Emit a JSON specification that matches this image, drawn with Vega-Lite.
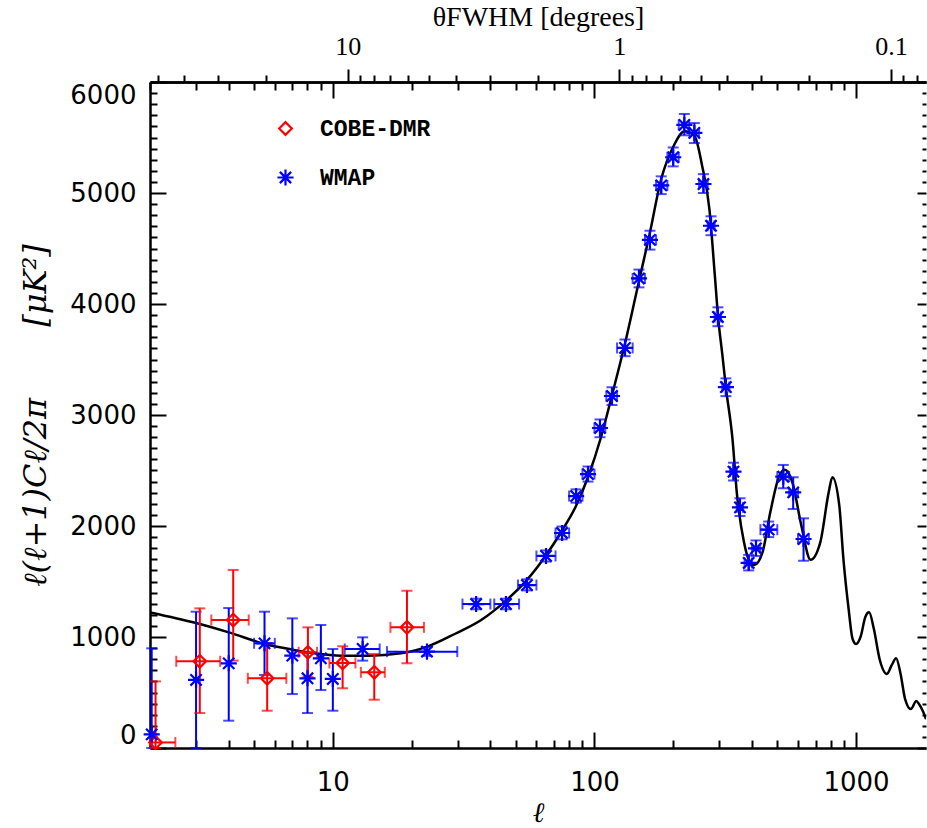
{
  "$schema": "https://vega.github.io/schema/vega-lite/v6.json",
  "padding": {"left": 19, "top": 3, "right": 0, "bottom": 0},
  "autosize": {"type": "pad"},
  "width": 776,
  "height": 666,
  "background": "white",
  "config": {
    "view": {"stroke": null},
    "axis": {
      "grid": false,
      "domainColor": "black",
      "domainWidth": 2.5,
      "tickColor": "black",
      "tickWidth": 2,
      "labelColor": "black",
      "titleColor": "black",
      "labelFont": "DejaVu Sans",
      "labelFontSize": 26,
      "labelOverlap": false
    }
  },
  "datasets": {
    "theory": [
      {"l": 2, "v": 1222}, {"l": 3, "v": 1126}, {"l": 4, "v": 1042}, {"l": 5.5, "v": 937},
      {"l": 7, "v": 886}, {"l": 8.5, "v": 853}, {"l": 10.75, "v": 832}, {"l": 13.6, "v": 832},
      {"l": 18.2, "v": 853}, {"l": 23.1, "v": 916}, {"l": 29.2, "v": 1027}, {"l": 36.9, "v": 1153},
      {"l": 46, "v": 1330}, {"l": 55, "v": 1510}, {"l": 65, "v": 1730}, {"l": 75, "v": 1955},
      {"l": 85, "v": 2180}, {"l": 94.5, "v": 2441}, {"l": 106, "v": 2802}, {"l": 117, "v": 3189},
      {"l": 131, "v": 3649}, {"l": 148.6, "v": 4225}, {"l": 162, "v": 4615}, {"l": 180, "v": 5126},
      {"l": 201, "v": 5426}, {"l": 221, "v": 5556}, {"l": 241, "v": 5516}, {"l": 258, "v": 5246},
      {"l": 275, "v": 4856}, {"l": 288.6, "v": 4255}, {"l": 297, "v": 3880}, {"l": 308, "v": 3550},
      {"l": 318, "v": 3250}, {"l": 337, "v": 2784}, {"l": 350, "v": 2303}, {"l": 373, "v": 1853},
      {"l": 390, "v": 1690}, {"l": 408, "v": 1649}, {"l": 439, "v": 1763}, {"l": 470, "v": 2123},
      {"l": 509, "v": 2453}, {"l": 534, "v": 2507}, {"l": 571, "v": 2394}, {"l": 618, "v": 2003},
      {"l": 670, "v": 1696}, {"l": 730, "v": 1853}, {"l": 786, "v": 2303}, {"l": 812, "v": 2439},
      {"l": 863, "v": 2183}, {"l": 895, "v": 1700}, {"l": 937, "v": 1250}, {"l": 970, "v": 982},
      {"l": 1000, "v": 937}, {"l": 1043, "v": 1009}, {"l": 1085, "v": 1180}, {"l": 1122, "v": 1222},
      {"l": 1170, "v": 1072}, {"l": 1230, "v": 802}, {"l": 1312, "v": 667}, {"l": 1370, "v": 748},
      {"l": 1423, "v": 808}, {"l": 1480, "v": 667}, {"l": 1540, "v": 441}, {"l": 1620, "v": 351},
      {"l": 1700, "v": 423}, {"l": 1740, "v": 396}, {"l": 1800, "v": 333}, {"l": 1851, "v": 260}
    ],
    "obs": [
      {"exp": "COBE-DMR", "l": 2.1, "v": 50, "lo": 0, "hi": 600, "llo": 2.0, "lhi": 2.5},
      {"exp": "COBE-DMR", "l": 3.1, "v": 781, "lo": 315, "hi": 1258, "llo": 2.52, "lhi": 3.71},
      {"exp": "COBE-DMR", "l": 4.16, "v": 1153, "lo": 787, "hi": 1604, "llo": 3.43, "lhi": 4.77},
      {"exp": "COBE-DMR", "l": 5.61, "v": 628, "lo": 336, "hi": 940, "llo": 4.73, "lhi": 6.64},
      {"exp": "COBE-DMR", "l": 8.03, "v": 862, "lo": 640, "hi": 1087, "llo": 7.4, "lhi": 8.7},
      {"exp": "COBE-DMR", "l": 10.9, "v": 766, "lo": 538, "hi": 916, "llo": 9.7, "lhi": 12.2},
      {"exp": "COBE-DMR", "l": 14.4, "v": 682, "lo": 435, "hi": 847, "llo": 12.8, "lhi": 15.8},
      {"exp": "COBE-DMR", "l": 19.2, "v": 1087, "lo": 763, "hi": 1417, "llo": 16.6, "lhi": 22.3},
      {"exp": "WMAP", "l": 2.03, "v": 123, "lo": 0, "hi": 898, "llo": null, "lhi": null},
      {"exp": "WMAP", "l": 3, "v": 613, "lo": 0, "hi": 1228, "llo": null, "lhi": null},
      {"exp": "WMAP", "l": 4, "v": 763, "lo": 246, "hi": 1261, "llo": null, "lhi": null},
      {"exp": "WMAP", "l": 5.48, "v": 943, "lo": 658, "hi": 1228, "llo": 5.0, "lhi": 6.0},
      {"exp": "WMAP", "l": 7, "v": 832, "lo": 486, "hi": 1168, "llo": null, "lhi": null},
      {"exp": "WMAP", "l": 8, "v": 628, "lo": 315, "hi": 856, "llo": null, "lhi": null},
      {"exp": "WMAP", "l": 9, "v": 808, "lo": 522, "hi": 1108, "llo": null, "lhi": null},
      {"exp": "WMAP", "l": 10, "v": 622, "lo": 336, "hi": 892, "llo": null, "lhi": null},
      {"exp": "WMAP", "l": 13, "v": 892, "lo": 787, "hi": 997, "llo": 11.1, "lhi": 15.1},
      {"exp": "WMAP", "l": 22.9, "v": 868, "lo": 830, "hi": 907, "llo": 16.1, "lhi": 29.9},
      {"exp": "WMAP", "l": 35.3, "v": 1297, "lo": 1250, "hi": 1345, "llo": 31.3, "lhi": 40},
      {"exp": "WMAP", "l": 45.9, "v": 1297, "lo": 1250, "hi": 1345, "llo": 41.4, "lhi": 51.5},
      {"exp": "WMAP", "l": 55.2, "v": 1468, "lo": 1420, "hi": 1520, "llo": 51, "lhi": 60},
      {"exp": "WMAP", "l": 65.3, "v": 1730, "lo": 1680, "hi": 1780, "llo": 60, "lhi": 71},
      {"exp": "WMAP", "l": 75.2, "v": 1937, "lo": 1880, "hi": 1995, "llo": 71, "lhi": 80},
      {"exp": "WMAP", "l": 85.1, "v": 2270, "lo": 2210, "hi": 2330, "llo": 80, "lhi": 90},
      {"exp": "WMAP", "l": 94.5, "v": 2468, "lo": 2400, "hi": 2536, "llo": 90, "lhi": 100},
      {"exp": "WMAP", "l": 105, "v": 2883, "lo": 2800, "hi": 2960, "llo": 100, "lhi": 110},
      {"exp": "WMAP", "l": 116.7, "v": 3171, "lo": 3090, "hi": 3250, "llo": 111, "lhi": 122},
      {"exp": "WMAP", "l": 130.9, "v": 3604, "lo": 3530, "hi": 3680, "llo": 122, "lhi": 140},
      {"exp": "WMAP", "l": 148, "v": 4230, "lo": 4150, "hi": 4310, "llo": 140, "lhi": 156},
      {"exp": "WMAP", "l": 163, "v": 4577, "lo": 4490, "hi": 4660, "llo": 156, "lhi": 172},
      {"exp": "WMAP", "l": 180, "v": 5068, "lo": 4990, "hi": 5150, "llo": 172, "lhi": 190},
      {"exp": "WMAP", "l": 200, "v": 5322, "lo": 5240, "hi": 5410, "llo": 190, "lhi": 210},
      {"exp": "WMAP", "l": 220.6, "v": 5613, "lo": 5520, "hi": 5712, "llo": 210, "lhi": 230},
      {"exp": "WMAP", "l": 241, "v": 5541, "lo": 5450, "hi": 5630, "llo": 231, "lhi": 251},
      {"exp": "WMAP", "l": 261, "v": 5081, "lo": 5000, "hi": 5170, "llo": 251, "lhi": 271},
      {"exp": "WMAP", "l": 279, "v": 4705, "lo": 4620, "hi": 4790, "llo": 271, "lhi": 288},
      {"exp": "WMAP", "l": 296.5, "v": 3883, "lo": 3800, "hi": 3970, "llo": 288, "lhi": 305},
      {"exp": "WMAP", "l": 318, "v": 3252, "lo": 3170, "hi": 3330, "llo": 308, "lhi": 328},
      {"exp": "WMAP", "l": 340, "v": 2489, "lo": 2410, "hi": 2570, "llo": 330, "lhi": 350},
      {"exp": "WMAP", "l": 360, "v": 2168, "lo": 2090, "hi": 2250, "llo": 350, "lhi": 370},
      {"exp": "WMAP", "l": 388.7, "v": 1667, "lo": 1600, "hi": 1740, "llo": 375, "lhi": 400},
      {"exp": "WMAP", "l": 414.5, "v": 1799, "lo": 1730, "hi": 1870, "llo": 400, "lhi": 430},
      {"exp": "WMAP", "l": 463.5, "v": 1967, "lo": 1900, "hi": 2040, "llo": 431, "lhi": 500},
      {"exp": "WMAP", "l": 527, "v": 2444, "lo": 2340, "hi": 2550, "llo": 500, "lhi": 555},
      {"exp": "WMAP", "l": 575, "v": 2303, "lo": 2153, "hi": 2439, "llo": 555, "lhi": 600},
      {"exp": "WMAP", "l": 630, "v": 1883, "lo": 1687, "hi": 2069, "llo": 600, "lhi": 660}
    ]
  },
  "layer": [
    {
      "layer": [
        {
          "data": {"name": "theory"},
          "mark": {"type": "line", "color": "black", "strokeWidth": 2.5, "interpolate": "monotone", "clip": true},
          "encoding": {
            "x": {
              "field": "l", "type": "quantitative", "title": "ℓ",
              "scale": {"type": "log", "domain": [2, 1851], "nice": false},
              "axis": {
                "orient": "bottom",
                "values": [2,3,4,5,6,7,8,9,10,20,30,40,50,60,70,80,90,100,200,300,400,500,600,700,800,900,1000],
                "labelExpr": "datum.value == 10 || datum.value == 100 || datum.value == 1000 ? format(datum.value, 'd') : ''",
                "tickSize": {"condition": {"test": "datum.value == 10 || datum.value == 100 || datum.value == 1000", "value": -16}, "value": -8},
                "labelPadding": 37,
                "labelFlush": false,
                "labelOverlap": false,
                "titleFont": "Liberation Serif",
                "titleFontStyle": "italic",
                "titleFontWeight": "normal",
                "titleFontSize": 28,
                "titlePadding": -4
              }
            },
            "y": {
              "field": "v", "type": "quantitative", "title": "ℓ(ℓ+1)Cℓ/2π\u00a0\u00a0\u00a0\u00a0\u00a0\u00a0\u00a0[μK²]",
              "scale": {"domain": [0, 6000], "nice": false, "zero": false},
              "axis": {
                "orient": "left",
                "values": [0, 1000, 2000, 3000, 4000, 5000, 6000],
                "format": "d",
                "tickSize": -16,
                "labelPadding": 30,
                "labelFlush": true,
                "labelFlushOffset": 0,
                "labelOverlap": false,
                "titleFont": "DejaVu Serif",
                "titleFontStyle": "italic",
                "titleFontWeight": "normal",
                "titleFontSize": 32,
                "titlePadding": 17
              }
            }
          }
        },
        {
          "data": {"name": "obs"},
          "transform": [{"filter": "datum.exp == 'WMAP'"}],
          "mark": {"type": "errorbar", "color": "#0000ff", "ticks": {"size": 11, "thickness": 2, "color": "#0000ff"}, "rule": {"strokeWidth": 2, "color": "#0000ff"}},
          "encoding": {
            "x": {"field": "l", "type": "quantitative", "title": "ℓ"},
            "y": {"field": "lo", "type": "quantitative", "title": "ℓ(ℓ+1)Cℓ/2π\u00a0\u00a0\u00a0\u00a0\u00a0\u00a0\u00a0[μK²]"},
            "y2": {"field": "hi"}
          }
        },
        {
          "data": {"name": "obs"},
          "transform": [{"filter": "datum.exp == 'WMAP' && datum.llo != null"}],
          "mark": {"type": "errorbar", "color": "#0000ff", "ticks": {"size": 11, "thickness": 2, "color": "#0000ff"}, "rule": {"strokeWidth": 2, "color": "#0000ff"}},
          "encoding": {
            "x": {"field": "llo", "type": "quantitative", "title": "ℓ"},
            "x2": {"field": "lhi"},
            "y": {"field": "v", "type": "quantitative", "title": "ℓ(ℓ+1)Cℓ/2π\u00a0\u00a0\u00a0\u00a0\u00a0\u00a0\u00a0[μK²]"}
          }
        },
        {
          "data": {"name": "obs"},
          "transform": [{"filter": "datum.exp == 'COBE-DMR'"}],
          "mark": {"type": "errorbar", "color": "#ff0000", "ticks": {"size": 11, "thickness": 2, "color": "#ff0000"}, "rule": {"strokeWidth": 2, "color": "#ff0000"}},
          "encoding": {
            "x": {"field": "l", "type": "quantitative", "title": "ℓ"},
            "y": {"field": "lo", "type": "quantitative", "title": "ℓ(ℓ+1)Cℓ/2π\u00a0\u00a0\u00a0\u00a0\u00a0\u00a0\u00a0[μK²]"},
            "y2": {"field": "hi"}
          }
        },
        {
          "data": {"name": "obs"},
          "transform": [{"filter": "datum.exp == 'COBE-DMR' && datum.llo != null"}],
          "mark": {"type": "errorbar", "color": "#ff0000", "ticks": {"size": 11, "thickness": 2, "color": "#ff0000"}, "rule": {"strokeWidth": 2, "color": "#ff0000"}},
          "encoding": {
            "x": {"field": "llo", "type": "quantitative", "title": "ℓ"},
            "x2": {"field": "lhi"},
            "y": {"field": "v", "type": "quantitative", "title": "ℓ(ℓ+1)Cℓ/2π\u00a0\u00a0\u00a0\u00a0\u00a0\u00a0\u00a0[μK²]"}
          }
        },
        {
          "data": {"name": "obs"},
          "mark": {"type": "point", "filled": false, "strokeWidth": 2.2, "opacity": 1},
          "encoding": {
            "x": {"field": "l", "type": "quantitative", "title": "ℓ"},
            "y": {"field": "v", "type": "quantitative", "title": "ℓ(ℓ+1)Cℓ/2π\u00a0\u00a0\u00a0\u00a0\u00a0\u00a0\u00a0[μK²]"},
            "color": {
              "field": "exp", "type": "nominal",
              "scale": {"domain": ["COBE-DMR", "WMAP"], "range": ["#ff0000", "#0000ff"]},
              "legend": {
                "title": null, "orient": "none", "legendX": 124, "legendY": 35, "padding": 0,
                "labelFont": "Liberation Mono", "labelFontWeight": "bold", "labelFontSize": 23,
                "labelColor": "black", "symbolStrokeWidth": 2.2,
                "rowPadding": 24, "labelOffset": 23
              }
            },
            "shape": {
              "field": "exp", "type": "nominal",
              "scale": {"domain": ["COBE-DMR", "WMAP"], "range": ["diamond", "M0,-1L0,1M-1,0L1,0M-0.7,-0.7L0.7,0.7M-0.7,0.7L0.7,-0.7"]},
              "legend": {
                "title": null, "orient": "none", "legendX": 124, "legendY": 35, "padding": 0,
                "labelFont": "Liberation Mono", "labelFontWeight": "bold", "labelFontSize": 23,
                "labelColor": "black", "symbolStrokeWidth": 2.2,
                "rowPadding": 24, "labelOffset": 23
              }
            },
            "size": {
              "field": "exp", "type": "nominal",
              "scale": {"domain": ["COBE-DMR", "WMAP"], "range": [160, 260]},
              "legend": {
                "title": null, "orient": "none", "legendX": 124, "legendY": 35, "padding": 0,
                "labelFont": "Liberation Mono", "labelFontWeight": "bold", "labelFontSize": 23,
                "labelColor": "black", "symbolStrokeWidth": 2.2,
                "rowPadding": 24, "labelOffset": 23
              }
            }
          }
        }
      ]
    },
    {
      "mark": {"type": "point", "opacity": 0},
      "encoding": {
        "x": {
          "datum": 10, "type": "quantitative",
          "scale": {"type": "log", "domain": [2, 1851], "nice": false},
          "axis": {
            "orient": "top",
            "values": [2,3,4,5,6,7,8,9,10,20,30,40,50,60,70,80,90,100,200,300,400,500,600,700,800,900,1000],
            "labels": false,
            "title": null,
            "tickSize": {"condition": {"test": "datum.value == 10 || datum.value == 100 || datum.value == 1000", "value": -16}, "value": -8}
          }
        },
        "y": {
          "datum": 1000, "type": "quantitative",
          "axis": {
            "orient": "right",
            "values": [0,100,200,300,400,500,600,700,800,900,1000,1100,1200,1300,1400,1500,1600,1700,1800,1900,2000,2100,2200,2300,2400,2500,2600,2700,2800,2900,3000,3100,3200,3300,3400,3500,3600,3700,3800,3900,4000,4100,4200,4300,4400,4500,4600,4700,4800,4900,5000,5100,5200,5300,5400,5500,5600,5700,5800,5900,6000],
            "labels": false,
            "title": null,
            "domain": false,
            "tickSize": {"condition": {"test": "datum.value % 1000 == 0", "value": -9}, "value": -4}
          }
        }
      }
    },
    {
      "mark": {"type": "point", "opacity": 0},
      "encoding": {
        "y": {
          "datum": 1000, "type": "quantitative",
          "axis": {
            "orient": "left",
            "values": [100,200,300,400,500,600,700,800,900,1100,1200,1300,1400,1500,1600,1700,1800,1900,2100,2200,2300,2400,2500,2600,2700,2800,2900,3100,3200,3300,3400,3500,3600,3700,3800,3900,4100,4200,4300,4400,4500,4600,4700,4800,4900,5100,5200,5300,5400,5500,5600,5700,5800,5900],
            "labels": false,
            "title": null,
            "domain": false,
            "tickSize": -7
          }
        }
      }
    },
    {
      "mark": {"type": "point", "opacity": 0},
      "encoding": {
        "x": {
          "datum": 1, "type": "quantitative",
          "scale": {"type": "log", "domain": [0.0743, 53.4], "reverse": true, "nice": false},
          "axis": {
            "orient": "top",
            "values": [0.08,0.09,0.1,0.2,0.3,0.4,0.5,0.6,0.7,0.8,0.9,1,2,3,4,5,6,7,8,9,10,20,30,40,50],
            "labelExpr": "datum.value == 10 ? '10' : datum.value == 1 ? '1' : datum.value == 0.1 ? '0.1' : ''",
            "tickSize": {"condition": {"test": "datum.value == 10 || datum.value == 1 || datum.value == 0.1", "value": 13}, "value": 7},
            "labelFont": "Liberation Serif",
            "labelFontSize": 26,
            "labelPadding": 10,
            "labelFlush": false,
            "labelOverlap": false,
            "title": "θFWHM [degrees]",
            "titleFont": "Liberation Serif",
            "titleFontWeight": "normal",
            "titleFontSize": 28,
            "titlePadding": 2
          }
        }
      }
    }
  ],
  "resolve": {"scale": {"x": "independent"}, "axis": {"x": "independent", "y": "independent"}}
}
